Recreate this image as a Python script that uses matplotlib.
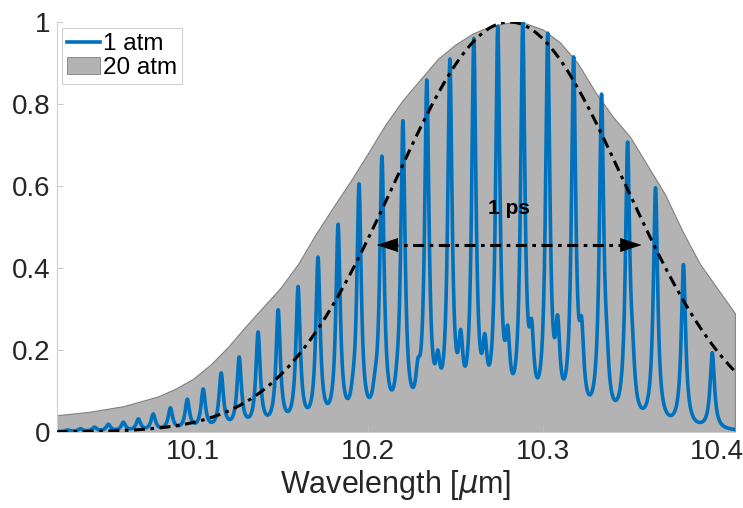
import numpy as np
import matplotlib
matplotlib.use("Agg")
import matplotlib.pyplot as plt
from matplotlib.patches import Patch
from matplotlib.lines import Line2D

plt.rcParams['font.family'] = ['Liberation Sans', 'DejaVu Sans']

# main laser lines at 1 atm: centre wavelength [um] and peak height
main_wl = [10.028, 10.0354, 10.0434, 10.0514, 10.060, 10.0686, 10.0771, 10.0869,
           10.0966, 10.1057, 10.116, 10.1263, 10.1371, 10.1486, 10.160, 10.1714,
           10.1829, 10.1949, 10.208, 10.220, 10.2337, 10.2469, 10.2606, 10.2743,
           10.2886, 10.3029, 10.3177, 10.3337, 10.3486, 10.3646, 10.3806, 10.3971]
main_h = [0.005, 0.008, 0.012, 0.019, 0.024, 0.032, 0.044, 0.059,
          0.080, 0.105, 0.144, 0.183, 0.244, 0.298, 0.354, 0.424,
          0.500, 0.605, 0.673, 0.759, 0.859, 0.910, 0.960, 0.990,
          1.000, 0.973, 0.915, 0.824, 0.707, 0.583, 0.383, 0.193]

# weaker side lines
side_wl = [10.1669, 10.1794, 10.1914, 10.204, 10.2166, 10.2286, 10.240, 10.2531,
           10.2669, 10.280, 10.2937, 10.3086, 10.3223, 10.3366, 10.3514, 10.3663, 10.3817]
side_h = [0.054, 0.060, 0.144, 0.150, 0.178, 0.180, 0.200, 0.250,
          0.240, 0.260, 0.275, 0.285, 0.280, 0.270, 0.260, 0.240, 0.230]

# 20 atm envelope
env_wl = [10.022, 10.04, 10.06, 10.08, 10.09, 10.10, 10.11, 10.12, 10.13, 10.14,
          10.15, 10.16, 10.17, 10.18, 10.19, 10.20, 10.21, 10.22, 10.23, 10.24,
          10.25, 10.26, 10.27, 10.28, 10.29, 10.30, 10.31, 10.32, 10.33, 10.34,
          10.35, 10.36, 10.37, 10.38, 10.39, 10.40, 10.41]
env_h = [0.041, 0.049, 0.063, 0.087, 0.106, 0.130, 0.165, 0.208, 0.258, 0.305,
         0.352, 0.410, 0.482, 0.548, 0.612, 0.680, 0.750, 0.810, 0.860, 0.910,
         0.945, 0.972, 0.990, 0.998, 0.997, 0.982, 0.950, 0.900, 0.830, 0.770,
         0.720, 0.650, 0.580, 0.490, 0.410, 0.350, 0.290]

# 1 ps pulse spectrum
pulse_c = 10.281
pulse_sig = 0.066
fwhm_left, fwhm_right, fwhm_y = 10.205, 10.3566, 0.456

gamma = 0.0015
x = np.linspace(10.022, 10.41, 5000)

centers = np.array(main_wl + side_wl)
heights = np.array(main_h + side_h)
M = 1.0 / (1.0 + ((centers[:, None] - centers[None, :]) / gamma) ** 2)
amps = np.clip(np.linalg.solve(M, heights), 0, None)
spec = (amps[None, :] / (1.0 + ((x[:, None] - centers[None, :]) / gamma) ** 2)).sum(axis=1)

pulse = np.exp(-(x - pulse_c) ** 2 / (2 * pulse_sig ** 2))

fig = plt.figure(figsize=(7.43, 5.08), dpi=100)
ax = fig.add_axes([0.0767, 0.1496, 0.9123, 0.8071])

blue = '#0072BD'
dashdot = (0, (3.6, 1.8, 1.2, 1.8))
ax.fill_between(env_wl, 0, env_h, facecolor='#b3b3b3', edgecolor='#808080', lw=0.8, zorder=1)
ax.plot(x, spec, color=blue, lw=2.6, zorder=2)
ax.plot(x, pulse, color='black', lw=2.2, ls=dashdot, zorder=3)

# FWHM arrow: dash-dot shaft with solid heads
ax.plot([fwhm_left + 0.006, fwhm_right - 0.006], [fwhm_y, fwhm_y], color='black',
        lw=2.2, ls=dashdot, zorder=4)
for tip, tail in [(fwhm_left, fwhm_left + 0.01), (fwhm_right, fwhm_right - 0.01)]:
    ax.annotate('', xy=(tip, fwhm_y), xytext=(tail, fwhm_y),
                arrowprops=dict(arrowstyle='-|>,head_length=1.1,head_width=0.36',
                                color='black', lw=0.5, mutation_scale=13,
                                shrinkA=0, shrinkB=0), zorder=5)
ax.text(pulse_c, 0.546, '1 ps', ha='center', va='center', fontsize=15,
        fontweight='bold', zorder=4)

ax.set_xlim(10.022, 10.41)
ax.set_ylim(0, 1)
ax.set_xticks([10.1, 10.2, 10.3, 10.4])
ax.set_xticklabels(['10.1', '10.2', '10.3', '10.4'])
ax.set_yticks([0, 0.2, 0.4, 0.6, 0.8, 1])
ax.set_yticklabels(['0', '0.2', '0.4', '0.6', '0.8', '1'])
ax.tick_params(direction='in', length=4, width=0.6, color='#bdbdbd',
               labelsize=20, labelcolor='#262626', pad=5)
for s in ['top', 'right']:
    ax.spines[s].set_visible(False)
for s in ['left', 'bottom']:
    ax.spines[s].set_color('#cfcfcf')
    ax.spines[s].set_linewidth(0.8)
ax.set_xlabel(r'Wavelength [$\mu$m]', fontsize=22, color='#262626', labelpad=2)

handles = [Line2D([0], [0], color=blue, lw=2.6),
           Patch(facecolor='#b3b3b3', edgecolor='#808080', lw=0.6)]
leg = ax.legend(handles, ['1 atm', '20 atm'], loc='upper left',
                bbox_to_anchor=(0.008, 0.985), fontsize=17.5, handlelength=1.35,
                handletextpad=0.1, borderpad=0.2, labelspacing=0.1,
                fancybox=False, framealpha=1, borderaxespad=0)
leg.get_frame().set_edgecolor('#d0d0d0')
leg.get_frame().set_linewidth(0.8)

fig.savefig('out.png', dpi=100)
